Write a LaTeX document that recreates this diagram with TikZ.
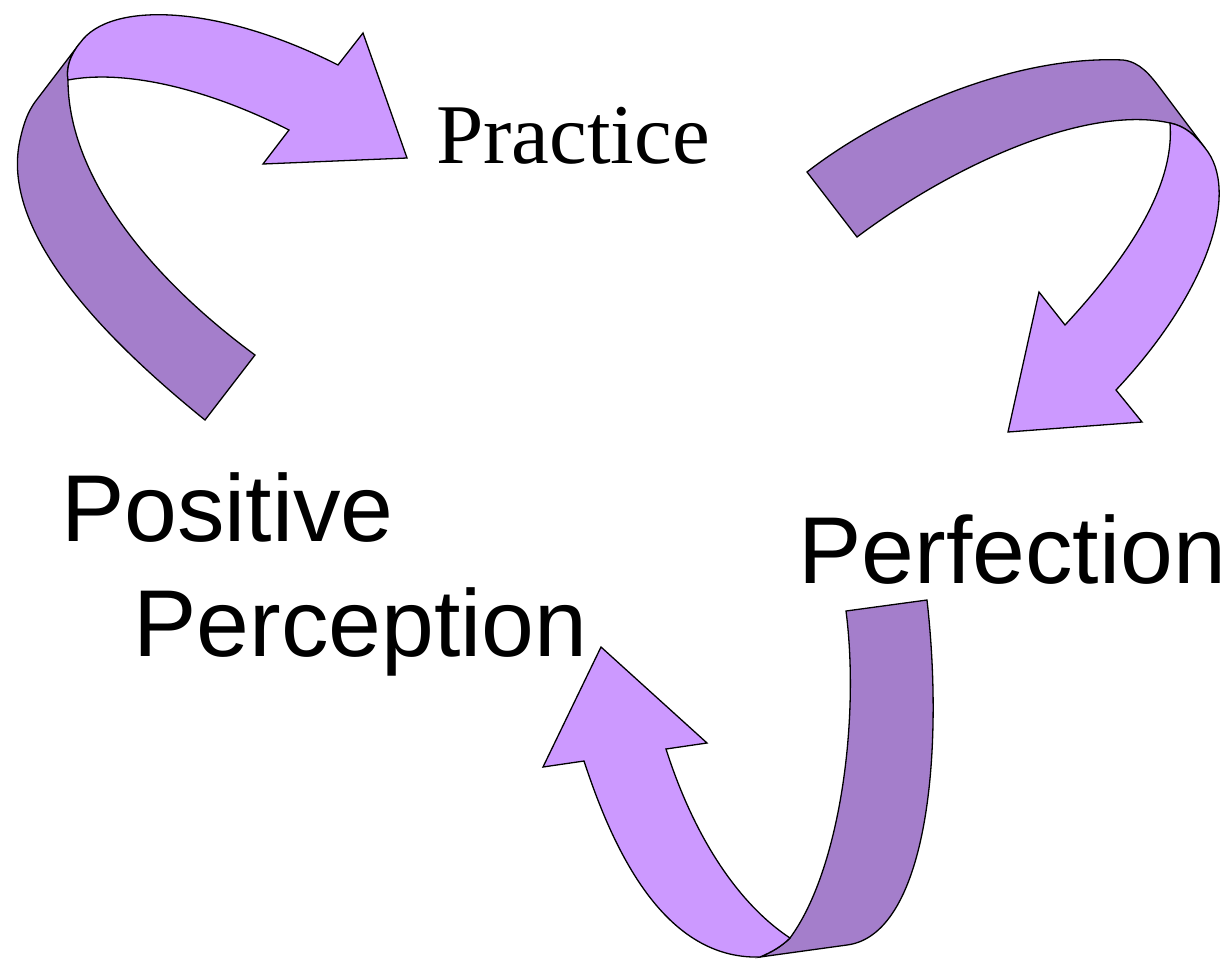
\documentclass[tikz,border=0pt]{standalone}
\usepackage{fontspec}
\setmainfont{Liberation Serif}
\setsansfont{Liberation Sans}
\definecolor{lightband}{HTML}{CC99FF}
\definecolor{darkband}{HTML}{A47ECB}
\begin{document}
\begin{tikzpicture}[x=1pt,y=-1pt,
  band/.style={draw=black,line width=1.3pt,line join=miter},
  front/.style={band,fill=lightband},
  back/.style={band,fill=darkband},
  bigsans/.style={font=\sffamily\fontsize{95}{114}\selectfont,inner sep=0pt,anchor=base west},
  serifl/.style={font=\rmfamily\fontsize{85}{100}\selectfont,inner sep=0pt,anchor=base west}]
\useasboundingbox (0,0) rectangle (1229,959);
% Arrow 1 (top left)
\draw[back] (205,420) .. controls (100,335) and (0,230) .. (20,140)
  .. controls (24,122) and (28,112) .. (35,102) -- (80,43)
  .. controls (70,55) and (66,68) .. (68,80)
  .. controls (68,170) and (140,270) .. (255,355) -- cycle;
\draw[front] (68,80) .. controls (66,68) and (70,55) .. (80,43)
  .. controls (110,0) and (220,5) .. (338,65) -- (363,33) -- (407,158)
  -- (263,164) -- (289,130)
  .. controls (200,85) and (120,70) .. (68,80) -- cycle;
% Arrow 2 (top right)
\draw[back] (807,172) .. controls (880,115) and (1010,55) .. (1123,60)
  .. controls (1140,62) and (1150,75) .. (1160,88) -- (1205,148)
  .. controls (1195,135) and (1185,126) .. (1170,123)
  .. controls (1090,105) and (960,160) .. (857,237) -- cycle;
\draw[front] (1170,123) .. controls (1185,126) and (1195,135) .. (1205,148)
  .. controls (1240,190) and (1210,290) .. (1116,390)
  -- (1142,422) -- (1008,432) -- (1039,292) -- (1065,325)
  .. controls (1130,255) and (1175,185) .. (1170,123) -- cycle;
% Arrow 3 (bottom)
\draw[back] (846,611) -- (927,600)
  .. controls (945,760) and (925,935) .. (847,945) -- (760,957)
  .. controls (772,952) and (782,946) .. (790,938)
  .. controls (840,870) and (860,720) .. (846,611) -- cycle;
\draw[front] (790,938) .. controls (782,946) and (772,952) .. (760,957)
  .. controls (660,960) and (610,840) .. (584,761)
  -- (543,767) -- (601,647) -- (707,743) -- (666,749)
  .. controls (695,840) and (740,905) .. (790,938) -- cycle;
% Labels
\node[serifl] (practice) at (436,163) {Practice};
\node[bigsans] (positive) at (61,541) {Positive};
\node[bigsans] (perception) at (133,656) {Perception};
\node[bigsans] (perfection) at (798,583) {Perfection};
\end{tikzpicture}
\end{document}
